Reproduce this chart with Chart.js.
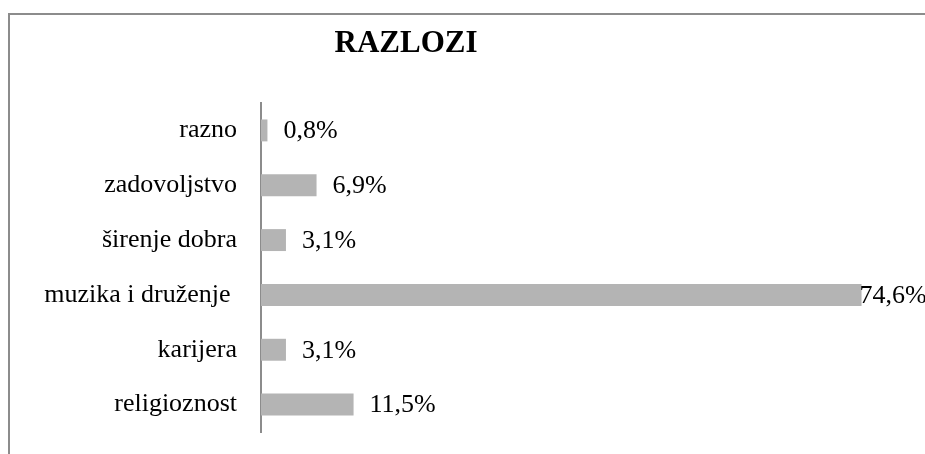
<!DOCTYPE html>
<html>
<head>
<meta charset="utf-8">
<script src="https://cdn.jsdelivr.net/npm/chart.js@4"></script>
<style>
	body { margin: 0; background: #fff; }
	#wrap { position: relative; width: 925px; height: 454px; overflow: hidden; }
	#frame { position: absolute; left: 8px; top: 13px; width: 1000px; height: 600px; border-left: 2px solid #8c8c8c; border-top: 2px solid #8c8c8c; }
	canvas { position: absolute; left: 0; top: 0; }
</style>
</head>
<body>
<div id="wrap">
	<div id="frame"></div>
	<canvas id="chart" width="925" height="454"></canvas>
</div>
<script>
const title_text = 'RAZLOZI';
const categories = ['razno', 'zadovoljstvo', 'širenje dobra', 'muzika i druženje ', 'karijera', 'religioznost'];
const values = [0.8, 6.9, 3.1, 74.6, 3.1, 11.5];
const value_labels = ['0,8%', '6,9%', '3,1%', '74,6%', '3,1%', '11,5%'];

const font_family = '"Liberation Serif", "Times New Roman", serif';

// draws the title and the percentage next to each bar
const labels_plugin = {
	id: 'labels_plugin',
	afterDraw (chart) {
		const c = chart.ctx;
		c.save ();
		c.fillStyle = '#000';
		c.font = `bold 31px ${font_family}`;
		c.textAlign = 'center';
		c.textBaseline = 'alphabetic';
		c.fillText (title_text, 406, 52);

		c.font = `26px ${font_family}`;
		c.textAlign = 'left';
		c.textBaseline = 'middle';
		const meta = chart.getDatasetMeta (0);
		meta.data.forEach ((bar, i) => {
			const txt = value_labels[i];
			let x = bar.x + 16;
			if (x + c.measureText (txt).width > chart.width) x = bar.x - 2;
			c.fillText (txt, x, bar.y + 1);
		});
		c.restore ();
	}
};

new Chart (document.getElementById ('chart'), {
	type: 'bar',
	data: {
		labels: categories,
		datasets: [{
			data: values,
			backgroundColor: '#b4b4b4',
			barPercentage: 0.4,
			categoryPercentage: 1
		}]
	},
	options: {
		indexAxis: 'y',
		responsive: false,
		animation: false,
		layout: { padding: { top: 103, bottom: 22, right: 20, left: 0 } },
		plugins: {
			legend: { display: false },
			title: { display: false },
			tooltip: { enabled: false }
		},
		scales: {
			x: {
				display: false,
				min: 0,
				max: 80
			},
			y: {
				afterFit: scale => {
					scale.width = 261;
					// labels sit beside the bars, so no extra room above/below
					scale.paddingTop = 0;
					scale.paddingBottom = 0;
				},
				grid: { display: false, drawTicks: false },
				border: { display: true, color: '#8c8c8c', width: 2 },
				ticks: {
					color: '#000',
					padding: 24,
					font: { family: font_family, size: 26 }
				}
			}
		}
	},
	plugins: [labels_plugin]
});
</script>
</body>
</html>
